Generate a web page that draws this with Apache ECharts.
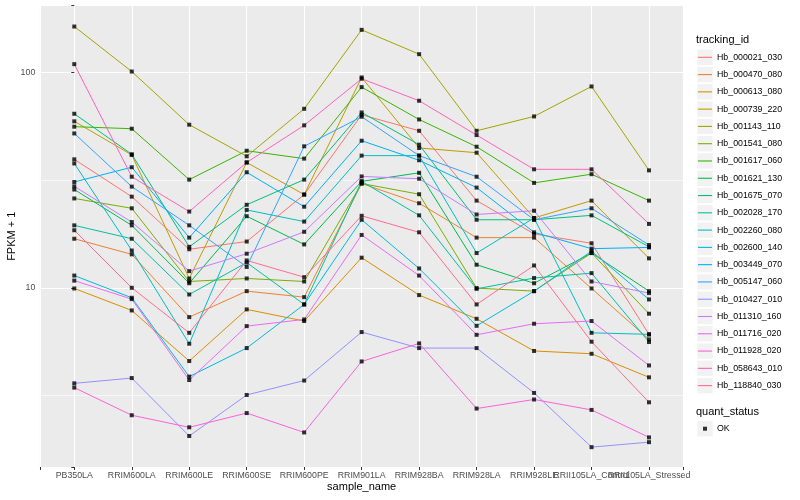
<!DOCTYPE html>
<html>
<head>
<meta charset="utf-8">
<script src="https://cdn.jsdelivr.net/npm/echarts@6/dist/echarts.min.js"></script>
<style>
html,body{margin:0;padding:0;background:#ffffff;}
#chart{width:800px;height:500px;}
</style>
</head>
<body>
<div id="chart"></div>
<script>
// ---- categories (x axis) ----
const categories = ['PB350LA','RRIM600LA','RRIM600LE','RRIM600SE','RRIM600PE','RRIM901LA',
  'RRIM928BA','RRIM928LA','RRIM928LE','RRII105LA_Control','RRII105LA_Stressed'];

// ---- series names and colours ----
const trackingIds = ['Hb_000021_030','Hb_000470_080','Hb_000613_080','Hb_000739_220','Hb_001143_110',
  'Hb_001541_080','Hb_001617_060','Hb_001621_130','Hb_001675_070','Hb_002028_170','Hb_002260_080',
  'Hb_002600_140','Hb_003449_070','Hb_005147_060','Hb_010427_010','Hb_011310_160','Hb_011716_020',
  'Hb_011928_020','Hb_058643_010','Hb_118840_030'];
const seriesColors = ['#F8766D','#EA8331','#D89000','#C09B00','#A3A500','#7CAE00','#39B600','#00BB4E',
  '#00BF7D','#00C1A3','#00BFC4','#00BAE0','#00B0F6','#35A2FF','#9590FF','#C77CFF','#E76BF3','#FA62DB',
  '#FF62BC','#FF6C91'];

// ---- series values (FPKM + 1), one value per category ----
const hb000021 = [39.5, 26.5, 15.1, 16.4, 27.1, 63.6, 53.6, 25.4, 17.8, 16.1, 6.08];
const hb000470 = [16.9, 14.3, 7.31, 9.65, 9.05, 30.5, 24.7, 17.1, 17.1, 9.93, 5.76];
const hb000613 = [9.93, 7.85, 4.57, 7.94, 7.01, 13.8, 9.25, 7.18, 5.09, 4.94, 3.84];
const hb000739 = [59.3, 41.4, 11.05, 38.2, 27.1, 94.8, 44.6, 42.4, 21.1, 25.4, 13.7];
const hb001143 = [163.4, 101, 57.2, 40.8, 67.8, 157.7, 121.6, 53.6, 62.5, 86.1, 35.1];
const hb001541 = [26.0, 23.4, 10.7, 11.05, 10.7, 30.5, 27.2, 9.97, 9.65, 14.5, 7.58];
const hb001617 = [56.0, 54.8, 31.8, 43.3, 39.8, 85.5, 60.5, 45.2, 30.7, 33.7, 25.4];
const hb001621 = [28.6, 19.5, 10.5, 21.5, 15.9, 31.2, 34.2, 12.8, 10.5, 14.5, 9.65];
const hb001675 = [64.3, 41.7, 15.5, 24.3, 31.8, 65.2, 46.2, 20.7, 20.7, 21.7, 15.5];
const hb002028 = [19.5, 16.9, 9.31, 13.1, 8.37, 31.2, 21.7, 9.89, 11.1, 11.7, 5.60];
const hb002260 = [37.8, 14.9, 5.50, 23.0, 20.3, 41.1, 41.1, 14.5, 21.1, 6.18, 6.08];
const hb002600 = [11.4, 8.99, 3.87, 5.25, 8.37, 20.7, 12.3, 6.66, 9.65, 14.8, 8.83];
const hb003449 = [31.0, 36.3, 17.1, 34.4, 23.8, 48.2, 39.1, 29.2, 18.1, 15.2, 15.4];
const hb005147 = [52.1, 29.5, 19.5, 12.5, 45.4, 62.3, 41.1, 32.8, 20.7, 23.4, 15.8];
const hb010427 = [3.60, 3.81, 2.05, 3.18, 3.71, 6.23, 5.25, 5.25, 3.25, 1.82, 1.92];
const hb011310 = [29.6, 20.2, 11.95, 14.4, 18.2, 32.9, 32.1, 21.9, 22.8, 10.7, 9.45];
const hb011716 = [10.8, 8.86, 3.73, 6.64, 7.13, 17.6, 11.4, 6.05, 6.81, 7.01, 4.36];
const hb011928 = [3.44, 2.56, 2.25, 2.62, 2.13, 4.55, 5.52, 2.75, 3.03, 2.71, 2.02];
const hb058643 = [109.3, 32.8, 22.6, 38.2, 56.8, 93.5, 73.9, 51.2, 35.5, 35.5, 19.8];
const hb118840 = [18.5, 10.0, 6.18, 13.4, 11.2, 21.6, 18.1, 8.37, 12.7, 5.62, 2.94];

const seriesValues = [hb000021, hb000470, hb000613, hb000739, hb001143, hb001541, hb001617, hb001621,
  hb001675, hb002028, hb002260, hb002600, hb003449, hb005147, hb010427, hb011310, hb011716, hb011928,
  hb058643, hb118840];

// ---- axis breaks / labels ----
const yBreakLabels = ['10', '100'];
const yRange = [1.472, 204.6]; // visible FPKM+1 range (log scale)
const quantStatus = 'OK';

const FONT = 'Liberation Sans';
const chart = echarts.init(document.getElementById('chart'), null, {renderer: 'canvas'});

const series = trackingIds.map((id, i) => ({
  name: id,
  type: 'line',
  data: seriesValues[i].map((v, j) => [j, Math.log10(v)]),
  symbol: 'none',
  showSymbol: false,
  lineStyle: {width: 1, color: seriesColors[i]},
  itemStyle: {color: seriesColors[i]},
  silent: true,
  z: 2
}));
const points = [];
seriesValues.forEach(arr => arr.forEach((v, j) => points.push([j, Math.log10(v)])));
series.push({
  name: quantStatus,
  type: 'scatter',
  data: points,
  symbol: 'rect',
  symbolSize: 4,
  itemStyle: {color: '#000000'},
  silent: true,
  z: 3
});

// legend key backgrounds (layout decoration)
const keyStep = 17.28;
const graphics = [];
for (let i = 0; i < trackingIds.length; i++) {
  graphics.push({type: 'rect', left: 697.3, top: 57.3 + i * keyStep - 7.7, z: -1,
    shape: {width: 15.4, height: 15.4}, style: {fill: '#F2F2F2'}, silent: true});
}
graphics.push({type: 'rect', left: 697.3, top: 428.7 - 7.7, z: -1,
  shape: {width: 15.4, height: 15.4}, style: {fill: '#F2F2F2'}, silent: true});

const isInt = v => Math.abs(v - Math.round(v)) < 1e-6;

chart.setOption({
  animation: false,
  textStyle: {fontFamily: FONT},
  title: [
    {text: 'tracking_id', left: 696, top: 34, padding: 0,
      textStyle: {fontFamily: FONT, fontSize: 11, fontWeight: 'normal', color: '#000'}},
    {text: 'quant_status', left: 696, top: 406, padding: 0,
      textStyle: {fontFamily: FONT, fontSize: 11, fontWeight: 'normal', color: '#000'}}
  ],
  graphic: graphics,
  grid: {left: 39.8, right: 116.5, top: 5.5, bottom: 33, show: true,
    backgroundColor: '#EBEBEB', borderWidth: 0, containLabel: false, outerBoundsMode: 'none'},
  legend: [
    {
      data: trackingIds.map((id, i) => ({name: id, itemStyle: {color: seriesColors[i]}})),
      orient: 'vertical', left: 693, top: 46.3, padding: 5,
      icon: 'rect', itemWidth: 14, itemHeight: 1.1, itemGap: 5.28,
      selectedMode: false,
      textStyle: {fontFamily: FONT, fontSize: 8.8, lineHeight: 12, color: '#000'}
    },
    {
      data: [quantStatus],
      orient: 'vertical', left: 698, top: 417.7, padding: 5,
      icon: 'rect', itemWidth: 4, itemHeight: 4, itemGap: 5,
      selectedMode: false,
      textStyle: {fontFamily: FONT, fontSize: 8.8, lineHeight: 12, color: '#000', padding: [0, 0, 0, 5]}
    }
  ],
  xAxis: {
    type: 'value',
    min: -0.6, max: categories.length - 1 + 0.6,
    splitNumber: categories.length, minInterval: 1, maxInterval: 1,
    axisLine: {show: false},
    axisTick: {show: true, length: 3, lineStyle: {color: '#333333', width: 1}},
    axisLabel: {
      margin: 4, color: '#4D4D4D', fontSize: 8.8, fontFamily: FONT, hideOverlap: false,
      showMinLabel: true, showMaxLabel: true,
      formatter: v => isInt(v) && v >= 0 && v < categories.length ? categories[Math.round(v)] : ''
    },
    splitLine: {show: true, lineStyle: {color: '#FFFFFF', width: 1.1}},
    name: 'sample_name', nameLocation: 'middle', nameGap: 14.5, nameMoveOverlap: false,
    nameTextStyle: {fontFamily: FONT, fontSize: 11, color: '#000'}
  },
  yAxis: {
    type: 'value',
    min: Math.log10(yRange[0]), max: Math.log10(yRange[1]),
    splitNumber: 2, minInterval: 1, maxInterval: 1,
    axisLine: {show: false},
    axisTick: {show: true, length: 3, lineStyle: {color: '#333333', width: 1}},
    axisLabel: {
      margin: 4.5, color: '#4D4D4D', fontSize: 8.8, fontFamily: FONT,
      formatter: v => {
        if (!isInt(v)) return '';
        const lbl = String(Math.round(Math.pow(10, Math.round(v))));
        return yBreakLabels.indexOf(lbl) >= 0 ? lbl : '';
      }
    },
    minorTick: {show: false, splitNumber: 2},
    minorSplitLine: {show: true, lineStyle: {color: '#FFFFFF', width: 0.55}},
    splitLine: {show: true, lineStyle: {color: '#FFFFFF', width: 1.1}},
    name: 'FPKM + 1', nameLocation: 'middle', nameGap: 22, nameRotate: 90, nameMoveOverlap: false,
    nameTextStyle: {fontFamily: FONT, fontSize: 11, color: '#000'}
  },
  series: series
});
</script>
</body>
</html>
